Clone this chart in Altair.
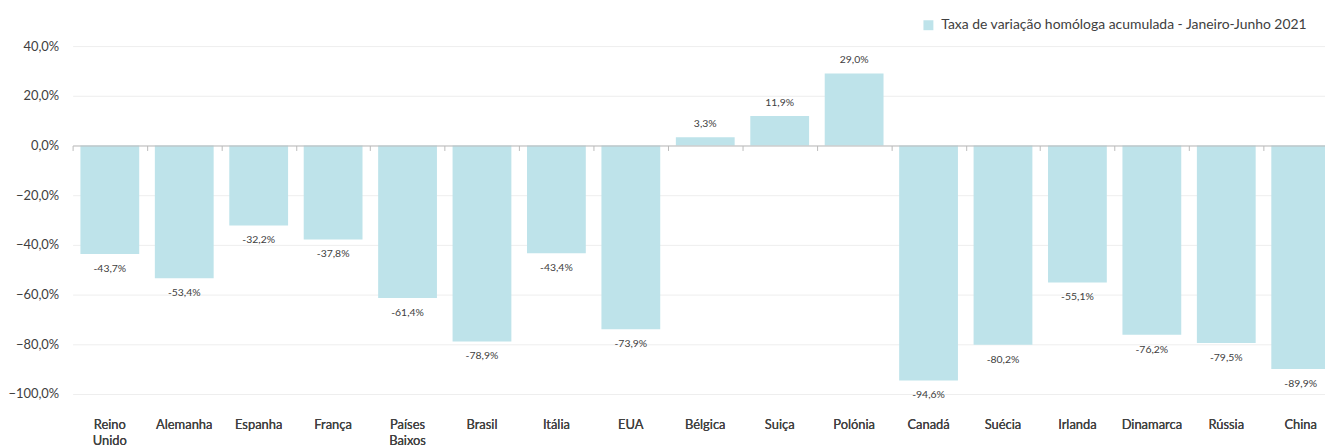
import altair as alt
import pandas as pd

countries = ["Reino Unido", "Alemanha", "Espanha", "França", "Países Baixos", "Brasil",
             "Itália", "EUA", "Bélgica", "Suiça", "Polónia", "Canadá", "Suécia",
             "Irlanda", "Dinamarca", "Rússia", "China"]
values = [-43.7, -53.4, -32.2, -37.8, -61.4, -78.9, -43.4, -73.9, 3.3, 11.9, 29.0,
          -94.6, -80.2, -55.1, -76.2, -79.5, -89.9]
series_name = "Taxa de variação homóloga acumulada - Janeiro-Junho 2021"
y_ticks = [40, 20, 0, -20, -40, -60, -80, -100]

BAR = "#BEE3EA"
TXT = "#404040"
FONT = "Lato"

df = pd.DataFrame({"pais": countries, "valor": values})
df["rotulo"] = [f"{v:.1f}%".replace(".", ",") for v in values]
df["serie"] = series_name

W, H = 1273, 350
xscale = alt.Scale(domain=countries, paddingInner=0.21, paddingOuter=0.105)
yscale = alt.Scale(domain=[-100, 40], nice=False, zero=False)

yenc = alt.Y("valor:Q", scale=yscale, title=None,
             axis=alt.Axis(values=y_ticks, grid=True, gridColor="#EEEEEE", gridWidth=1,
                           domain=False, ticks=False, tickSize=0, labelPadding=14,
                           labelFont=FONT, labelFontSize=13, labelColor=TXT,
                           labelExpr="replace(format(datum.value, '.1f'), '.', ',') + '%'"))

zero_axis = alt.Axis(orient="bottom", offset=-250, labels=False, domain=True,
                     domainColor="#BBBBBB", domainWidth=1, ticks=True, tickColor="#BBBBBB",
                     tickSize=5, bandPosition=0, tickOffset=-7.9, grid=False, zindex=1,
                     title=None)
label_axis = alt.Axis(orient="bottom", labels=True, domain=False, ticks=False,
                      labelPadding=25, labelFont=FONT, labelFontSize=13, labelColor=TXT,
                      labelAngle=0, labelLineHeight=16, grid=False, title=None,
                      labelExpr="split(datum.label, ' ')")

bars = alt.Chart(df).mark_bar(color=BAR).encode(
    x=alt.X("pais:N", sort=countries, scale=xscale, axis=zero_axis),
    y=yenc,
    color=alt.Color("serie:N", scale=alt.Scale(range=[BAR]),
                    legend=alt.Legend(title=None, orient="none", legendX=854, legendY=-28,
                                      symbolType="square", symbolSize=100,
                                      symbolStrokeWidth=0, labelFont=FONT, labelFontSize=14,
                                      labelColor=TXT, labelOffset=6, padding=0,
                                      labelLimit=600)),
)

pos = alt.Chart(df).transform_filter("datum.valor >= 0").mark_text(
    font=FONT, fontSize=10.5, color=TXT, baseline="alphabetic", dy=-10
).encode(
    x=alt.X("pais:N", sort=countries, scale=xscale, axis=label_axis),
    y=yenc, text="rotulo:N")

neg = alt.Chart(df).transform_filter("datum.valor < 0").mark_text(
    font=FONT, fontSize=10.5, color=TXT, baseline="alphabetic", dy=18
).encode(
    x=alt.X("pais:N", sort=countries, scale=xscale, axis=label_axis),
    y=yenc, text="rotulo:N")

chart = alt.layer(bars, pos, neg).resolve_axis(x="independent").properties(
    width=W, height=H,
    autosize=alt.AutoSizeParams(type="none"),
    padding={"left": 65, "top": 37, "right": -13, "bottom": 52},
).configure_view(stroke=None)

chart.save("out.html", embed_options={"renderer": "svg", "actions": False})
